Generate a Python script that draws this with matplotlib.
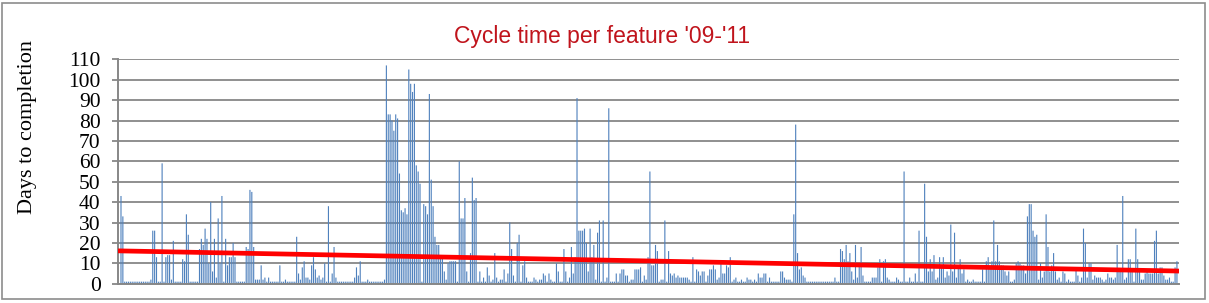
#!/usr/bin/env python3
from __future__ import annotations

import matplotlib

matplotlib.use("Agg")
import matplotlib.pyplot as plt
from matplotlib.patches import Rectangle


TITLE = "Cycle time per feature '09-'11"
Y_LABEL = "Days to completion"
Y_TICKS = list(range(0, 111, 10))

# days to completion for each feature, in order of completion
days = [
    43, 33, 1, 1, 1, 1, 1, 1, 1, 1,
    1, 1, 1, 1, 1, 1, 2, 26, 26, 13,
    1, 1, 59, 1, 13, 14, 14, 2, 21, 1,
    1, 1, 1, 12, 11, 34, 24, 1, 1, 1,
    1, 1, 17, 22, 19, 27, 22, 10, 40, 6,
    22, 3, 32, 10, 43, 1, 22, 9, 13, 13,
    20, 13, 1, 1, 1, 1, 1, 18, 17, 46,
    45, 18, 2, 2, 2, 9, 2, 3, 1, 3,
    1, 1, 1, 1, 1, 9, 1, 1, 2, 1,
    1, 1, 1, 1, 23, 5, 2, 8, 11, 3,
    3, 2, 9, 13, 7, 3, 4, 2, 3, 10,
    1, 38, 1, 5, 18, 3, 1, 1, 1, 1,
    1, 1, 1, 1, 1, 3, 8, 4, 11, 1,
    1, 1, 2, 1, 1, 1, 1, 1, 1, 1,
    1, 2, 107, 83, 83, 80, 75, 83, 81, 54,
    36, 35, 37, 34, 105, 98, 94, 98, 58, 55,
    49, 1, 39, 38, 34, 93, 51, 38, 23, 19,
    19, 13, 13, 6, 2, 10, 11, 11, 11, 11,
    1, 60, 32, 32, 42, 6, 1, 15, 52, 41,
    42, 1, 6, 1, 3, 1, 8, 4, 1, 2,
    15, 3, 1, 2, 2, 7, 1, 5, 30, 17,
    4, 1, 20, 24, 1, 9, 11, 3, 1, 1,
    1, 3, 2, 1, 2, 2, 5, 4, 1, 5,
    2, 1, 1, 10, 6, 1, 1, 17, 6, 1,
    3, 18, 5, 13, 91, 26, 26, 26, 27, 20,
    6, 27, 13, 19, 2, 25, 31, 1, 31, 1,
    3, 86, 1, 1, 1, 5, 1, 5, 7, 7,
    4, 4, 1, 2, 2, 7, 7, 7, 8, 1,
    4, 2, 13, 55, 9, 9, 19, 16, 1, 2,
    2, 31, 1, 16, 5, 4, 5, 3, 4, 3,
    3, 3, 3, 3, 2, 1, 13, 1, 7, 6,
    4, 6, 6, 1, 4, 7, 7, 9, 7, 2,
    3, 10, 5, 5, 9, 8, 13, 1, 2, 3,
    1, 1, 2, 1, 1, 3, 2, 2, 1, 2,
    1, 5, 3, 3, 5, 5, 1, 3, 1, 1,
    1, 1, 1, 6, 6, 3, 2, 2, 2, 1,
    34, 78, 15, 7, 8, 4, 3, 1, 1, 1,
    1, 1, 1, 1, 1, 1, 1, 1, 1, 1,
    1, 1, 3, 1, 1, 17, 16, 12, 19, 11,
    15, 6, 2, 19, 3, 10, 18, 4, 1, 1,
    1, 1, 3, 3, 3, 8, 12, 1, 11, 12,
    3, 2, 1, 1, 1, 3, 2, 1, 1, 55,
    1, 1, 3, 1, 1, 5, 1, 26, 1, 1,
    49, 23, 6, 12, 6, 14, 2, 3, 13, 8,
    13, 3, 6, 4, 29, 6, 25, 3, 9, 12,
    5, 7, 1, 2, 1, 1, 2, 1, 1, 1,
    1, 7, 1, 11, 13, 8, 11, 31, 11, 19,
    11, 9, 9, 6, 4, 6, 1, 1, 2, 10,
    11, 10, 9, 9, 5, 33, 39, 39, 26, 23,
    24, 2, 10, 3, 6, 34, 18, 6, 9, 15,
    6, 2, 3, 1, 6, 5, 1, 2, 1, 1,
    1, 8, 4, 1, 3, 27, 20, 3, 10, 10,
    2, 4, 3, 3, 3, 2, 1, 2, 5, 3,
    3, 2, 3, 19, 6, 6, 43, 2, 3, 12,
    12, 6, 1, 27, 12, 6, 2, 2, 5, 7,
    5, 5, 5, 21, 26, 5, 8, 8, 4, 2,
    2, 3, 1, 1, 8, 11,
]

# linear trendline as shown in the chart (value at first and last feature)
trend = [16.1, 6.2]

BAR_COLOR = "#4f81bd"
TREND_COLOR = "#ff0000"
GRID_COLOR = "#878787"
TITLE_COLOR = "#c0141c"


def main() -> None:
    fig = plt.figure(figsize=(12.09, 3.03), dpi=100)
    ax = fig.add_axes([118 / 1209, 19.3 / 303, 1061 / 1209, 224.4 / 303])

    x = list(range(len(days)))
    # thin bars: turn snapping off so every bar shows (antialiased, like the original)
    ax.bar(x, days, width=0.6, color=BAR_COLOR, linewidth=0, zorder=2, snap=False)
    ax.plot([-1.6, len(days) + 0.1], trend, color=TREND_COLOR, lw=3.4,
            solid_capstyle="butt", zorder=3)

    ax.set_xlim(-1.6, len(days) + 0.1)
    ax.set_ylim(0, 110)
    ax.set_yticks(Y_TICKS)
    ax.set_yticklabels([str(t) for t in Y_TICKS], fontsize=15.5,
                       family="Liberation Serif")
    ax.set_xticks([])
    ax.yaxis.grid(True, color=GRID_COLOR, lw=1.3, zorder=0)
    ax.set_axisbelow(True)
    ax.tick_params(axis="y", length=4.5, width=1.3, color=GRID_COLOR, pad=8)

    for side in ("top", "right"):
        ax.spines[side].set_visible(False)
    for side in ("left", "bottom"):
        ax.spines[side].set_color(GRID_COLOR)
        ax.spines[side].set_linewidth(1.4)

    fig.text(28 / 1209, 1 - 127 / 303, Y_LABEL, rotation=90, ha="center",
             va="center", fontsize=16, family="Liberation Serif")
    fig.text(602 / 1209, 1 - 37 / 303, TITLE, ha="center", va="center",
             fontsize=16.5, color=TITLE_COLOR, family="Liberation Sans")

    fig.patches.append(Rectangle((1.5 / 1209, 4.5 / 303), 1203 / 1209, 296 / 303,
                                 transform=fig.transFigure, fill=False,
                                 edgecolor="#8c8c8c", lw=1.2))

    fig.savefig("out.png", dpi=100)
    plt.close(fig)


if __name__ == "__main__":
    main()
